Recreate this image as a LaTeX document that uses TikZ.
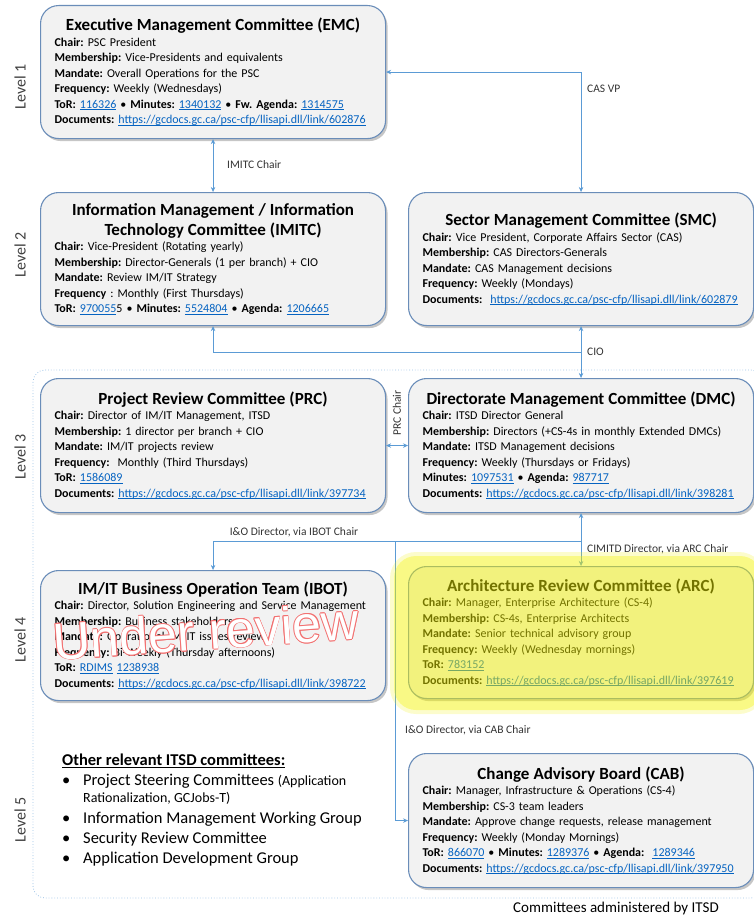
\documentclass[tikz,border=0pt]{standalone}
\usepackage{fontspec}
\setmainfont{Carlito}
\newfontfamily\wmfont{Liberation Sans}
\usetikzlibrary{arrows.meta, shadows}
\definecolor{boxfill}{HTML}{F2F2F2}
\definecolor{boxline}{HTML}{6A8DB9}
\definecolor{linkblue}{HTML}{0563C1}
\definecolor{connblue}{HTML}{5B9BD5}
\definecolor{zonedot}{HTML}{9DC3E6}
\definecolor{wmred}{HTML}{F27070}
\definecolor{levelgray}{HTML}{404040}
\definecolor{glowyellow}{HTML}{F2F200}
\newcommand\lnk[1]{\textcolor{linkblue}{\setbox0\hbox{#1}\rlap{\rule[-1.6pt]{\wd0}{0.6pt}}\box0}}
\newcommand\fld[1]{\textbf{#1:} }
\newcommand\sep{ \textbullet\ }
\newcommand\cmttl[1]{{\centering\fontsize{17}{20}\selectfont\bfseries #1\par}}
\newcommand\blt{\makebox[21pt][l]{\textbullet}}
\frenchspacing
\tikzset{
  >={Stealth[length=5pt,width=4.5pt]},
  cmte/.style={draw=boxline, fill=boxfill, line width=1.1pt, rounded corners=18pt, anchor=north west,
    text width=317pt, inner xsep=14pt, inner ysep=0pt, minimum width=345pt, minimum height=133pt, align=left,
    font=\fontsize{12}{15.5}\selectfont,
    drop shadow={shadow xshift=2pt, shadow yshift=-2.5pt, fill=black!50, opacity=0.45}},
  conn/.style={draw=connblue, line width=1pt},
  clab/.style={font=\fontsize{11.5}{13}\selectfont, text=black!80, inner sep=0pt},
  lvl/.style={rotate=90, font=\fontsize{16}{16}\selectfont, text=levelgray, inner sep=0pt},
  wmark/.style={rotate=4, font=\wmfont\fontsize{52}{52}\selectfont, inner sep=0pt},
  zone/.style={draw=zonedot, dotted, line width=0.8pt, rounded corners=12pt}
}
\begin{document}
\begin{tikzpicture}[x=1pt, y=-1pt]
\useasboundingbox (0,0) rectangle (754,915);
\draw[zone] (33,370) rectangle (763,898);

\node[cmte] (emc) at (40,5) {\cmttl{Executive Management Committee (EMC)}
\fld{Chair}PSC President\\
\fld{Membership}Vice-Presidents and equivalents\\
\fld{Mandate}Overall Operations for the PSC\\
\fld{Frequency}Weekly (Wednesdays)\\
\fld{ToR}\lnk{116326}\sep\fld{Minutes}\lnk{1340132}\sep\fld{Fw. Agenda}\lnk{1314575}\\
\fld{Documents}\lnk{https://gcdocs.gc.ca/psc-cfp/llisapi.dll/link/602876}};

\node[cmte] (imitc) at (40,192) {\cmttl{Information Management / Information\\ Technology Committee (IMITC)}
\fld{Chair}Vice-President (Rotating yearly)\\
\fld{Membership}Director-Generals (1 per branch) + CIO\\
\fld{Mandate}Review IM/IT Strategy\\
\textbf{Frequency} : Monthly (First Thursdays)\\
\fld{ToR}\lnk{970055}5\sep\fld{Minutes}\lnk{5524804}\sep\fld{Agenda}\lnk{1206665}};

\node[cmte] (smc) at (408,192) {\cmttl{Sector Management Committee (SMC)}
\fld{Chair}Vice President, Corporate Affairs Sector (CAS)\\
\fld{Membership}CAS Directors-Generals\\
\fld{Mandate}CAS Management decisions\\
\fld{Frequency}Weekly (Mondays)\\
\fld{Documents}\ \lnk{https://gcdocs.gc.ca/psc-cfp/llisapi.dll/link/602879}};

\node[cmte, minimum height=134pt] (prc) at (40,378) {\cmttl{Project Review Committee (PRC)}
\fld{Chair}Director of IM/IT Management, ITSD\\
\fld{Membership}1 director per branch + CIO\\
\fld{Mandate}IM/IT projects review\\
\fld{Frequency}\ Monthly (Third Thursdays)\\
\fld{ToR}\lnk{1586089}\\
\fld{Documents}\lnk{https://gcdocs.gc.ca/psc-cfp/llisapi.dll/link/397734}};

\node[cmte, minimum height=134pt] (dmc) at (408,378) {\cmttl{Directorate Management Committee (DMC)}
\fld{Chair}ITSD Director General\\
\fld{Membership}Directors (+CS-4s in monthly Extended DMCs)\\
\fld{Mandate}ITSD Management decisions\\
\fld{Frequency}Weekly (Thursdays or Fridays)\\
\fld{Minutes}\lnk{1097531}\sep\fld{Agenda}\lnk{987717}\\
\fld{Documents}\lnk{https://gcdocs.gc.ca/psc-cfp/llisapi.dll/link/398281}};

\node[cmte, minimum height=130pt] (ibot) at (40,570) {\cmttl{IM/IT Business Operation Team (IBOT)}
\fld{Chair}Director, Solution Engineering and Service Management\\
\fld{Membership}Business stakeholders\\
\fld{Mandate}Operational IM/IT issues review\\
\fld{Frequency}Bi-Weekly (Thursday afternoons)\\
\fld{ToR}\lnk{RDIMS} \lnk{1238938}\\
\fld{Documents}\lnk{https://gcdocs.gc.ca/psc-cfp/llisapi.dll/link/398722}};

\node[cmte, minimum height=132pt] (arc) at (408,566) {\cmttl{Architecture Review Committee (ARC)}
\fld{Chair}Manager, Enterprise Architecture (CS-4)\\
\fld{Membership}CS-4s, Enterprise Architects\\
\fld{Mandate}Senior technical advisory group\\
\fld{Frequency}Weekly (Wednesday mornings)\\
\fld{ToR}\lnk{783152}\\
\fld{Documents}\lnk{https://gcdocs.gc.ca/psc-cfp/llisapi.dll/link/397619}};

\node[cmte, minimum height=134pt] (cab) at (408,753) {\cmttl{Change Advisory Board (CAB)}
\fld{Chair}Manager, Infrastructure \& Operations (CS-4)\\
\fld{Membership}CS-3 team leaders\\
\fld{Mandate}Approve change requests, release management\\
\fld{Frequency}Weekly (Monday Mornings)\\
\fld{ToR}\lnk{866070}\sep\fld{Minutes}\lnk{1289376}\sep\fld{Agenda}\ \lnk{1289346}\\
\fld{Documents}\lnk{https://gcdocs.gc.ca/psc-cfp/llisapi.dll/link/397950}};

\coordinate (cioj) at (smc.south |- 0,352);
\coordinate (ioj) at (dmc.south |- 0,541);
\coordinate (cabj) at (395,541);
\draw[conn,<->] (emc.east) -| (smc.north);
\draw[conn,<->] (emc.south) -- (imitc.north);
\draw[conn,<->] (smc.south) -- (dmc.north);
\draw[conn,->] (cioj) -| (imitc.south);
\draw[conn,<->] (prc.east) -- (dmc.west);
\draw[conn,<->] (dmc.south) -- (arc.north);
\draw[conn,->] (ioj) -| (ibot.north);
\draw[conn,->] (cabj) |- (cab.west);

\node[clab, anchor=west] (lcasvp) at (587,89) {CAS VP};
\node[clab, anchor=west] (limitc) at (227,165) {IMITC Chair};
\node[clab, anchor=west] (lcio) at (587,352) {CIO};
\node[clab, rotate=90] (lprc) at (397,413) {PRC Chair};
\node[clab, anchor=south] (libot) at (294,537) {I\&O Director, via IBOT Chair};
\node[clab, anchor=west] (larc) at (587,549) {CIMITD Director, via ARC Chair};
\node[clab, anchor=west] (lcab) at (405,730) {I\&O Director, via CAB Chair};

\fill[glowyellow, fill opacity=0.2, rounded corners=26pt] (390,552) rectangle (765,714);
\fill[glowyellow, fill opacity=0.35, rounded corners=22pt] (394,556) rectangle (762,710);

\foreach \a in {0,45,...,315}
  \node[wmark, text=wmred, shift={(\a:0.7pt)}] at (206,631) {Under review};
\node[wmark, text=white] (wm) at (206,631) {Under review};

\node[lvl] (lv1) at (20,87) {Level 1};
\node[lvl] (lv2) at (20,255) {Level 2};
\node[lvl] (lv3) at (20,457) {Level 3};
\node[lvl] (lv4) at (20,640) {Level 4};
\node[lvl] (lv5) at (20,820) {Level 5};

\node[anchor=north west, inner sep=0pt, align=left, font=\fontsize{16.5}{20}\selectfont] (other) at (62,754) {%
\textbf{\underline{Other relevant ITSD committees:}}\\
\blt Project Steering Committees {\fontsize{14}{17}\selectfont (Application}\\[-3pt]
\hspace*{21pt}{\fontsize{14}{17}\selectfont Rationalization, GCJobs-T)}\\[1pt]
\blt Information Management Working Group\\
\blt Security Review Committee\\
\blt Application Development Group};

\node[anchor=base west, inner sep=0pt, font=\fontsize{15}{17}\selectfont] (admin) at (513,912) {Committees administered by ITSD};
\end{tikzpicture}
\end{document}
